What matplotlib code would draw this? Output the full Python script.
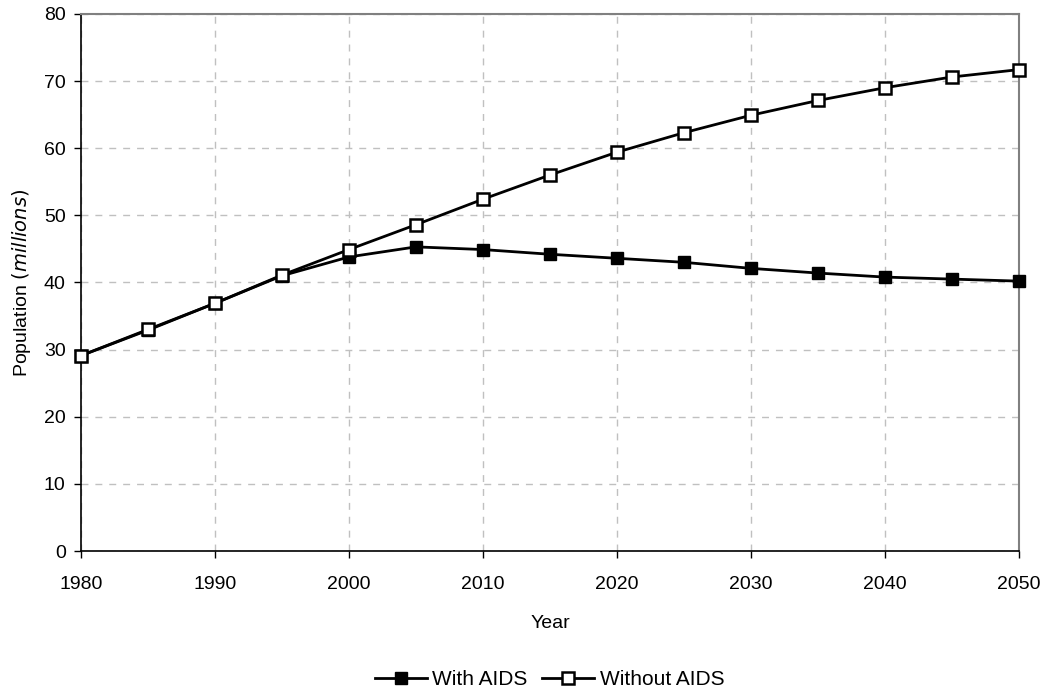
import matplotlib.pyplot as plt

years = [1980, 1985, 1990, 1995, 2000, 2005, 2010, 2015, 2020, 2025, 2030, 2035, 2040, 2045, 2050]
with_aids = [29.1, 32.9, 36.9, 41.0, 43.8, 45.3, 44.9, 44.2, 43.6, 43.0, 42.1, 41.4, 40.8, 40.5, 40.2]
without_aids = [29.1, 33.0, 36.9, 41.1, 44.9, 48.6, 52.4, 56.0, 59.4, 62.3, 64.9, 67.1, 69.0, 70.6, 71.7]

plt.rcParams['font.family'] = ['Liberation Sans', 'DejaVu Sans']
plt.rcParams['font.size'] = 14

fig = plt.figure(figsize=(10.45, 6.94), dpi=100)
ax = fig.add_axes([0.0775, 0.206, 0.8975, 0.774])

ax.plot(years, with_aids, '-s', color='black', lw=2, ms=9,
	markerfacecolor='black', markeredgecolor='black', label='With AIDS', zorder=3, clip_on=False)
ax.plot(years, without_aids, '-s', color='black', lw=2, ms=9, mew=1.8,
	markerfacecolor='white', markeredgecolor='black', label='Without AIDS', zorder=4, clip_on=False)

ax.set_xlim(1980, 2050)
ax.set_ylim(0, 80)
ax.set_xticks(range(1980, 2051, 10))
ax.set_yticks(range(0, 81, 10))
ax.grid(True, color='#c0c0c0', linestyle=(0, (5, 5)), lw=1)
ax.set_axisbelow(True)

for side in ['top', 'right']:
	ax.spines[side].set_color('#808080')
	ax.spines[side].set_linewidth(1.5)
for side in ['left', 'bottom']:
	ax.spines[side].set_color('black')
	ax.spines[side].set_linewidth(1.2)
ax.tick_params(direction='out', length=5, width=1, labelsize=14)
ax.tick_params(axis='x', pad=13)
ax.tick_params(axis='y', pad=6)

ax.set_xlabel('Year', labelpad=16)
ax.set_ylabel('Population $\\it{(millions)}$', labelpad=8)

fig.legend(loc='lower center', bbox_to_anchor=(0.526, -0.02), ncol=2, frameon=False,
	handlelength=2.5, handletextpad=0.25, columnspacing=0.7, fontsize=15)

fig.savefig('out.png', dpi=100)
